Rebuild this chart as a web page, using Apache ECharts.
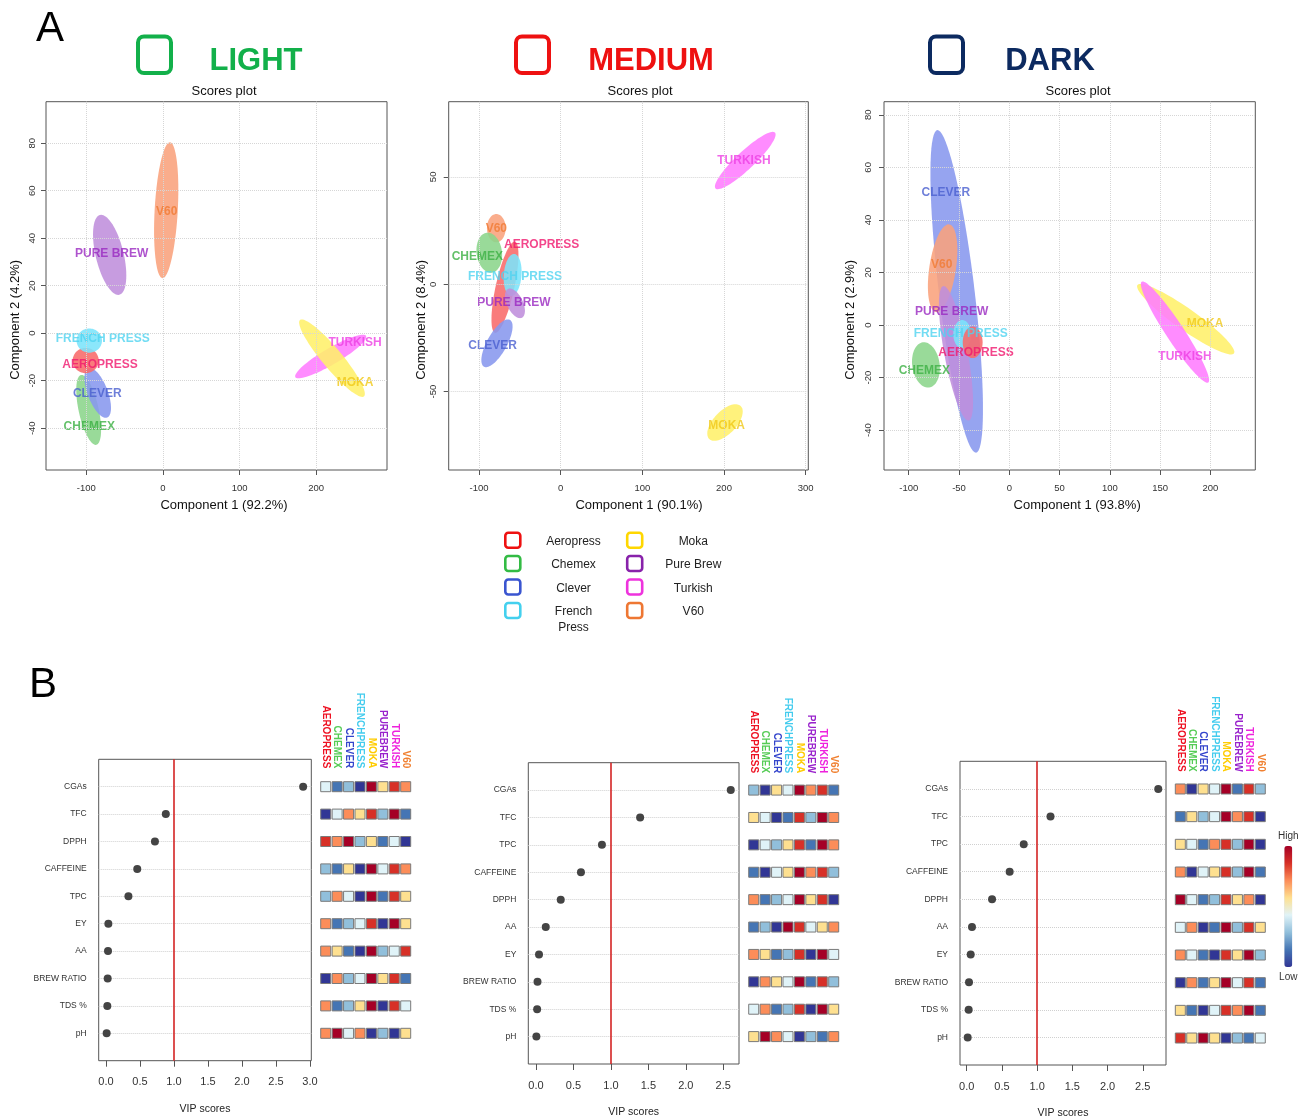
<!DOCTYPE html>
<html>
<head>
<meta charset="utf-8">
<script src="https://cdn.jsdelivr.net/npm/echarts@6/dist/echarts.min.js"></script>
<style>
  html, body { margin: 0; padding: 0; background: #fff; }
  #chart { width: 1304px; height: 1120px; }
</style>
</head>
<body>
<div id="chart"></div>
<script>
// brewing methods
const methods = ['Aeropress', 'Chemex', 'Clever', 'French Press', 'Moka', 'Pure Brew', 'Turkish', 'V60'];
const methodLabels = ['AEROPRESS', 'CHEMEX', 'CLEVER', 'FRENCH PRESS', 'MOKA', 'PURE BREW', 'TURKISH', 'V60'];
const methodTags = ['AEROPRESS', 'CHEMEX', 'CLEVER', 'FRENCHPRESS', 'MOKA', 'PUREBREW', 'TURKISH', 'V60'];

const fillColors = ['#f86a6a', '#8bd58b', '#8797ee', '#7be4fb', '#fff06a', '#bf8edc', '#ff7cff', '#f9a27c'];
const labelColors = ['#f0186e', '#3cb043', '#4a5fd0', '#4fd3f0', '#f0c818', '#9a28c0', '#ee40e4', '#f07a33'];
const legendColors = ['#ee1111', '#33bb44', '#3a55d0', '#44d0ee', '#ffd700', '#8822aa', '#ee33dd', '#ee7733'];
const tagColors = ['#ee1122', '#55cc55', '#3344cc', '#44ccee', '#ffcc00', '#9922cc', '#ee22dd', '#f08030'];

// scores plots: [method, centre x, centre y, major-axis tip x, tip y, minor/major]
const lightEllipses = [
  [6, 218.9, -9.8, 265, -1.1, 0.2],
  [4, 220.6, -10.5, 178.9, 5.6, 0.2],
  [7, 4.2, 51.8, 9.1, 80.4, 0.17],
  [5, -69.6, 33, -82.2, 49.8, 0.34],
  [1, -97, -32.3, -107, -17.6, 0.28],
  [2, -85.2, -25.1, -97.5, -14.7, 0.38],
  [0, -100.9, -11.5, -83.9, -11.5, 0.97],
  [3, -96.2, -3.1, -79.6, -3.1, 0.95]
];
const lightLabels = [[7, 4.8, 51], [5, -67, 33.3], [3, -78.7, -2.4], [0, -82.2, -13.3],
  [2, -85.8, -25.6], [1, -96.2, -39.3], [6, 250.7, -3.8], [4, 250.7, -20.8]];

const mediumEllipses = [
  [6, 226, 57.6, 262.4, 70.6, 0.22],
  [4, 201.2, -64.4, 220.4, -56.7, 0.5],
  [7, -78.8, 26.1, -78.8, 32.7, 0.66],
  [1, -87.4, 14.7, -90.6, 24, 0.63],
  [0, -68.2, -1.4, -56, 19.8, 0.2],
  [3, -58.8, 4.3, -56.8, 14.1, 0.42],
  [5, -56, -8.9, -64.5, -2.2, 0.5],
  [2, -78, -27.5, -62.1, -16.6, 0.37]
];
const mediumLabels = [[6, 224.4, 57.4], [4, 203.2, -66], [7, -78.8, 26.1], [1, -102, 12.9],
  [0, -23.3, 18.2], [3, -56, 3.3], [5, -57.2, -8.6], [2, -83.3, -28.7]];

const darkEllipses = [
  [4, 175.5, 2.2, 223.5, -10.8, 0.18],
  [6, 164.8, -2.7, 131.7, 16.5, 0.15],
  [2, -52.3, 12.8, -71.6, 74.2, 0.11],
  [7, -66.3, 21.6, -59.7, 38.3, 0.3],
  [5, -53, -10.8, -65.6, 14.8, 0.17],
  [1, -82.9, -15.2, -86.1, -6.6, 0.6],
  [3, -46.8, -3.5, -46.8, 1.9, 0.63],
  [0, -36.4, -6.6, -36.4, -0.6, 0.63]
];
const darkLabels = [[2, -63, 50.3], [7, -67.2, 22.8], [5, -57.3, 5.1], [3, -48.3, -3.3],
  [0, -33.1, -10.4], [1, -84.5, -17.4], [4, 194.7, 0.6], [6, 174.8, -12.1]];

const lightXTicks = [-100, 0, 100, 200];
const lightYTicks = [-40, -20, 0, 20, 40, 60, 80];
const mediumXTicks = [-100, 0, 100, 200, 300];
const mediumYTicks = [-50, 0, 50];
const darkXTicks = [-100, -50, 0, 50, 100, 150, 200];
const darkYTicks = [-40, -20, 0, 20, 40, 60, 80];

// VIP scores
const lightVars = ['CGAs', 'TFC', 'DPPH', 'CAFFEINE', 'TPC', 'EY', 'AA', 'BREW RATIO', 'TDS %', 'pH'];
const lightVip = [2.9, 0.88, 0.72, 0.46, 0.33, 0.035, 0.03, 0.025, 0.02, 0.01];
const mediumVars = ['CGAs', 'TFC', 'TPC', 'CAFFEINE', 'DPPH', 'AA', 'EY', 'BREW RATIO', 'TDS %', 'pH'];
const mediumVip = [2.6, 1.39, 0.88, 0.6, 0.33, 0.13, 0.04, 0.02, 0.015, 0.005];
const darkVars = ['CGAs', 'TFC', 'TPC', 'CAFFEINE', 'DPPH', 'AA', 'EY', 'BREW RATIO', 'TDS %', 'pH'];
const darkVip = [2.72, 1.19, 0.81, 0.61, 0.36, 0.075, 0.057, 0.033, 0.028, 0.014];
const lightVipTicks = [0, 0.5, 1, 1.5, 2, 2.5, 3];
const vipTicks = [0, 0.5, 1, 1.5, 2, 2.5];

// relative level (1 = low ... 8 = high) per method, one row per variable
const lightRanks = [
  [4, 2, 3, 1, 8, 5, 7, 6], [1, 4, 6, 5, 7, 3, 8, 2], [7, 6, 8, 3, 5, 2, 4, 1], [3, 2, 5, 1, 8, 4, 7, 6],
  [3, 6, 4, 1, 8, 2, 7, 5], [6, 2, 3, 4, 7, 1, 8, 5], [6, 5, 2, 1, 8, 3, 4, 7], [1, 6, 3, 4, 8, 5, 7, 2],
  [6, 2, 3, 5, 8, 1, 7, 4], [6, 8, 4, 6, 1, 3, 1, 5]
];
const mediumRanks = [
  [3, 1, 5, 4, 8, 6, 7, 2], [5, 4, 1, 2, 7, 3, 8, 6], [1, 4, 3, 5, 7, 2, 8, 6], [2, 1, 4, 5, 8, 6, 7, 3],
  [6, 2, 3, 4, 8, 5, 7, 1], [2, 3, 1, 8, 7, 4, 5, 6], [6, 5, 2, 3, 7, 1, 8, 4], [1, 6, 5, 4, 8, 2, 7, 3],
  [4, 6, 2, 3, 7, 1, 8, 5], [5, 8, 6, 4, 1, 3, 2, 6]
];
const darkRanks = [
  [6, 1, 5, 4, 8, 2, 7, 3], [2, 5, 3, 4, 8, 6, 7, 1], [5, 4, 2, 6, 7, 3, 8, 1], [6, 1, 4, 5, 7, 3, 8, 2],
  [8, 4, 2, 3, 7, 5, 6, 1], [4, 6, 1, 2, 8, 3, 7, 5], [6, 4, 2, 1, 7, 5, 8, 3], [1, 6, 2, 5, 8, 4, 7, 2],
  [5, 2, 1, 4, 7, 6, 8, 2], [7, 5, 8, 5, 1, 3, 2, 4]
];
const heatColors = ['#313695', '#4575b4', '#91bfdb', '#e0f3f8', '#fee090', '#fc8d59', '#d73027', '#a50026'];

const FONT = 'Liberation Sans, Arial, sans-serif';
const chart = echarts.init(document.getElementById('chart'));

// ---------- scores plots ----------
function ellipseItem(params, api) {
  const c = api.coord([api.value(1), api.value(2)]);
  const t = api.coord([api.value(3), api.value(4)]);
  const r = api.value(5);
  const ux = t[0] - c[0], uy = t[1] - c[1];
  const vx = -uy * r, vy = ux * r;
  const pts = [];
  for (let i = 0; i < 80; i++) {
    const a = i / 80 * Math.PI * 2;
    pts.push([c[0] + ux * Math.cos(a) + vx * Math.sin(a), c[1] + uy * Math.cos(a) + vy * Math.sin(a)]);
  }
  return { type: 'polygon', shape: { points: pts }, style: { fill: fillColors[api.value(0)], opacity: 0.88 } };
}

const scoreDefs = [
  { grid: { left: 46, top: 101.7, width: 341, height: 368.3 }, x: [-152.7, 292.4], y: [-57.6, 97.5],
    xt: lightXTicks, yt: lightYTicks, ell: lightEllipses, lab: lightLabels,
    xname: 'Component 1 (92.2%)', yname: 'Component 2 (4.2%)', xshift: 15, ylm: 9, ygap: 24 },
  { grid: { left: 448.7, top: 101.7, width: 359.6, height: 368.3 }, x: [-137.1, 303.2], y: [-86.5, 85.0],
    xt: mediumXTicks, yt: mediumYTicks, ell: mediumEllipses, lab: mediumLabels,
    xname: 'Component 1 (90.1%)', yname: 'Component 2 (8.4%)', xshift: 21, ylm: 10, ygap: 21 },
  { grid: { left: 884, top: 101.7, width: 371.3, height: 368.3 }, x: [-124.6, 244.7], y: [-55.2, 85],
    xt: darkXTicks, yt: darkYTicks, ell: darkEllipses, lab: darkLabels,
    xname: 'Component 1 (93.8%)', yname: 'Component 2 (2.9%)', xshift: 15, ylm: 11, ygap: 27 }
];

const grids = [], xAxes = [], yAxes = [], series = [];

scoreDefs.forEach((d, k) => {
  grids.push(Object.assign({ show: true, borderColor: '#555', borderWidth: 1, backgroundColor: '#fff' }, d.grid));
  xAxes.push({
    gridIndex: k, type: 'value', min: d.x[0], max: d.x[1],
    axisLine: { show: false, onZero: false }, splitLine: { show: false },
    axisTick: { show: true, customValues: d.xt, length: 5, lineStyle: { color: '#555' } },
    axisLabel: { customValues: d.xt, fontSize: 9.5, color: '#333', fontFamily: FONT, margin: 13 },
    name: d.xname, nameLocation: 'middle', nameGap: 29,
    nameTextStyle: { fontSize: 13, color: '#111', fontFamily: FONT, padding: [0, 0, 0, d.xshift] }
  });
  yAxes.push({
    gridIndex: k, type: 'value', min: d.y[0], max: d.y[1],
    axisLine: { show: false, onZero: false }, splitLine: { show: false },
    axisTick: { show: true, customValues: d.yt, length: 5, lineStyle: { color: '#555' } },
    axisLabel: { customValues: d.yt, rotate: 90, fontSize: 9.5, color: '#333', fontFamily: FONT, margin: d.ylm },
    name: d.yname, nameLocation: 'middle', nameGap: d.ygap, nameRotate: 90,
    nameTextStyle: { fontSize: 13, color: '#111', fontFamily: FONT, padding: [0, 68, 0, 0] }
  });
  // dotted grid lines
  series.push({
    type: 'scatter', xAxisIndex: k, yAxisIndex: k, data: [], z: 1, silent: true,
    markLine: {
      silent: true, symbol: 'none', label: { show: false },
      lineStyle: { color: '#d6d6d6', type: 'dotted', width: 1 },
      data: d.xt.map(v => ({ xAxis: v })).concat(d.yt.map(v => ({ yAxis: v })))
    }
  });
  series.push({
    type: 'custom', xAxisIndex: k, yAxisIndex: k, z: 2, silent: true,
    renderItem: ellipseItem, encode: { x: 1, y: 2 }, data: d.ell
  });
  series.push({
    type: 'scatter', xAxisIndex: k, yAxisIndex: k, z: 3, symbolSize: 0, silent: true,
    data: d.lab.map(l => ({
      value: [l[1], l[2]], name: methodLabels[l[0]],
      label: { color: labelColors[l[0]] }
    })),
    label: {
      show: true, position: 'inside', formatter: p => p.name,
      fontSize: 12, fontWeight: 'bold', fontFamily: FONT
    }
  });
});

// ---------- VIP plots + heat maps ----------
const vipDefs = [
  { grid: { left: 98.7, top: 759.3, width: 212.6, height: 301.4 }, heatLeft: 320, x: [-0.107, 3.02],
    ticks: lightVipTicks, vars: lightVars, vip: lightVip, ranks: lightRanks, tagMargin: -9 },
  { grid: { left: 528.3, top: 762.7, width: 210.7, height: 301.3 }, heatLeft: 748, x: [-0.103, 2.71],
    ticks: vipTicks, vars: mediumVars, vip: mediumVip, ranks: mediumRanks, tagMargin: -10.5 },
  { grid: { left: 960, top: 761.3, width: 206, height: 304.4 }, heatLeft: 1174.6, x: [-0.095, 2.83],
    ticks: vipTicks, vars: darkVars, vip: darkVip, ranks: darkRanks, tagMargin: -10.4 }
];

const heatSeriesIdx = [];
vipDefs.forEach(d => {
  const slots = [''].concat(d.vars, [' ']);
  const gi = grids.length;
  grids.push(Object.assign({ show: true, borderColor: '#555', borderWidth: 1, backgroundColor: '#fff' }, d.grid));
  grids.push({ left: d.heatLeft, top: d.grid.top, width: 91.4, height: d.grid.height });
  xAxes.push({
    gridIndex: gi, type: 'value', min: d.x[0], max: d.x[1],
    axisLine: { show: false, onZero: false }, splitLine: { show: false },
    axisTick: { show: true, customValues: d.ticks, length: 6, lineStyle: { color: '#555' } },
    axisLabel: { customValues: d.ticks, formatter: v => v.toFixed(1), fontSize: 11, color: '#333', fontFamily: FONT, margin: 16 },
    name: 'VIP scores', nameLocation: 'middle', nameGap: 43,
    nameTextStyle: { fontSize: 10.5, color: '#222', fontFamily: FONT }
  });
  yAxes.push({
    gridIndex: gi, type: 'category', data: slots, inverse: true, boundaryGap: false,
    axisLine: { show: false }, axisTick: { show: false },
    axisLabel: { fontSize: 8.5, color: '#333', fontFamily: FONT, margin: 12 },
    splitLine: { show: true, interval: (i) => i > 0 && i < slots.length - 1, lineStyle: { color: '#d0d0d0', type: 'dotted' } }
  });
  xAxes.push({
    gridIndex: gi + 1, type: 'category', data: methodTags, position: 'top',
    axisLine: { show: false }, axisTick: { show: false }, splitLine: { show: false },
    axisLabel: { rotate: 90, interval: 0, fontSize: 10, fontWeight: 'bold', fontFamily: FONT,
      margin: d.tagMargin, color: (v, i) => tagColors[i] }
  });
  yAxes.push({
    gridIndex: gi + 1, type: 'category', data: slots, inverse: true, boundaryGap: false,
    axisLine: { show: false }, axisTick: { show: false }, axisLabel: { show: false }, splitLine: { show: false }
  });
  series.push({
    type: 'scatter', xAxisIndex: gi, yAxisIndex: gi, symbolSize: 8, z: 3, silent: true,
    itemStyle: { color: '#444', opacity: 1 },
    data: d.vars.map((v, i) => [d.vip[i], v]),
    markLine: {
      silent: true, symbol: 'none', label: { show: false },
      lineStyle: { color: '#d42424', type: 'solid', width: 1.6 },
      data: [{ xAxis: 1 }]
    }
  });
  const heat = [];
  d.vars.forEach((v, r) => d.ranks[r].forEach((rank, m) => heat.push([methodTags[m], v, rank])));
  heatSeriesIdx.push(series.length);
  series.push({
    type: 'scatter', xAxisIndex: gi + 1, yAxisIndex: gi + 1, symbol: 'rect', symbolSize: 10, silent: true,
    itemStyle: { borderColor: '#7a7a7a', borderWidth: 1, opacity: 1 },
    data: heat
  });
});

// ---------- free text and legend ----------
const graphics = [
  { type: 'text', left: 36, top: 8, style: { text: 'A', font: '42px ' + FONT, fill: '#000' } },
  { type: 'text', left: 29, top: 664, style: { text: 'B', font: '42px ' + FONT, fill: '#000' } }
];
const roastHeads = [
  { name: 'LIGHT', color: '#12b04a', box: 136, tx: 256 },
  { name: 'MEDIUM', color: '#ee1111', box: 514, tx: 651 },
  { name: 'DARK', color: '#0c2a60', box: 928, tx: 1050 }
];
roastHeads.forEach(h => {
  graphics.push({ type: 'rect', shape: { x: h.box + 2, y: 36.5, width: 33, height: 36.5, r: 6 },
    style: { fill: 'none', stroke: h.color, lineWidth: 4 } });
  graphics.push({ type: 'text', x: h.tx, y: 61, style: { text: h.name, font: 'bold 31px ' + FONT,
    fill: h.color, textAlign: 'center', textVerticalAlign: 'middle' } });
});
[224, 640, 1078].forEach(x => graphics.push({ type: 'text', x: x, y: 91,
  style: { text: 'Scores plot', font: '13px ' + FONT, fill: '#111', textAlign: 'center', textVerticalAlign: 'middle' } }));

const legendRows = [540.3, 563.5, 587, 610.5];
methods.forEach((m, i) => {
  const col = Math.floor(i / 4), row = i % 4;
  const sx = col ? 634.7 : 512.8, tx = col ? 693.3 : 573.5, y = legendRows[row];
  graphics.push({ type: 'rect', shape: { x: sx - 7.5, y: y - 7.5, width: 15, height: 15, r: 3 },
    style: { fill: 'none', stroke: legendColors[i], lineWidth: 2.6 } });
  const lines = m === 'French Press' ? ['French', 'Press'] : [m];
  lines.forEach((t, j) => graphics.push({ type: 'text', x: tx, y: y + 1.2 + j * 15.6,
    style: { text: t, font: '12px ' + FONT, fill: '#222', textAlign: 'center', textVerticalAlign: 'middle' } }));
});

chart.setOption({
  animation: false,
  grid: grids,
  xAxis: xAxes,
  yAxis: yAxes,
  series: series,
  graphic: graphics,
  visualMap: {
    type: 'continuous', min: 1, max: 8, dimension: 2, seriesIndex: heatSeriesIdx,
    inRange: { color: heatColors }, calculable: false, hoverLink: false,
    left: 1263, top: 816, itemWidth: 8, itemHeight: 121, text: ['High', 'Low'], textGap: 5,
    textStyle: { fontSize: 10, color: '#333', fontFamily: FONT }
  }
});
</script>
</body>
</html>
